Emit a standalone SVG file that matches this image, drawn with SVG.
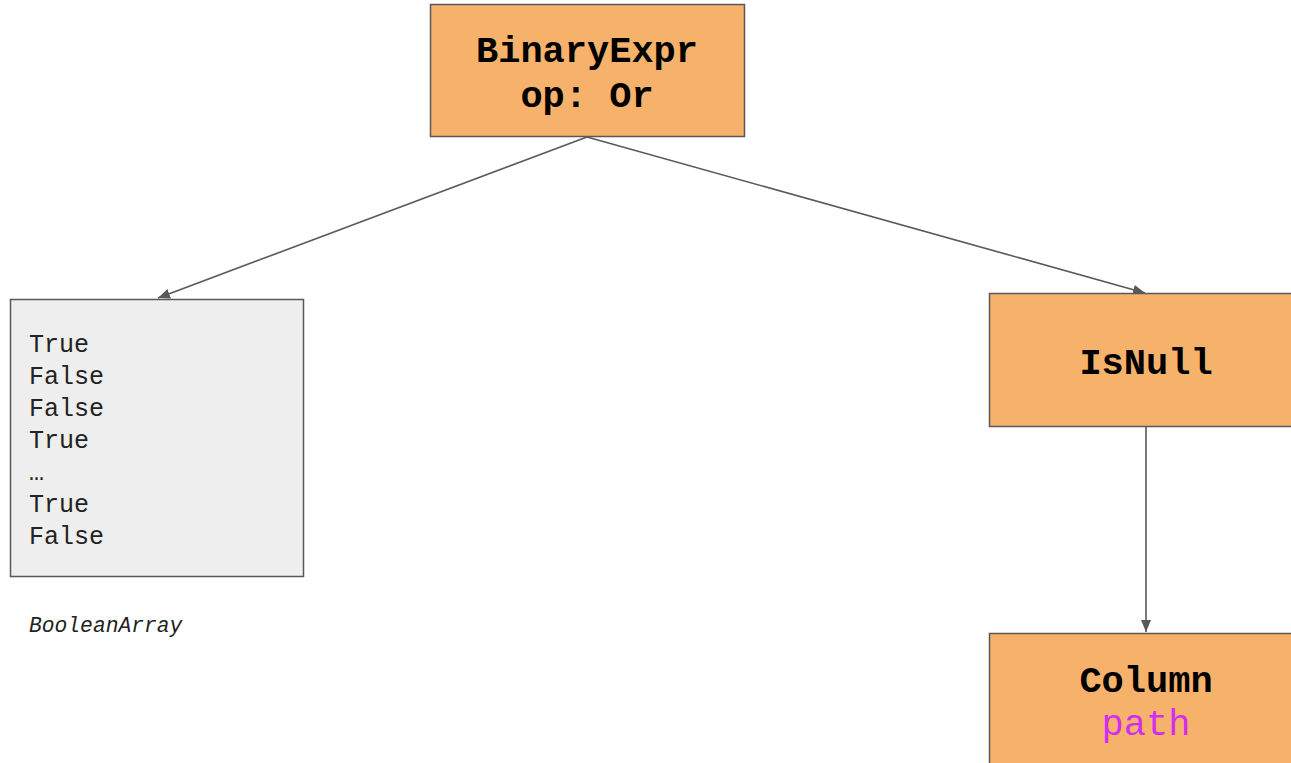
<svg xmlns="http://www.w3.org/2000/svg" width="1291" height="763" viewBox="0 0 1291 763">
<style>
.node{fill:#f6b26b;stroke:#595959;stroke-width:1.5}
.arr{fill:#eeeeee;stroke:#595959;stroke-width:1.5}
.t{font-family:"Liberation Mono","Courier New",monospace;font-weight:bold;font-size:37px;fill:#000;text-anchor:middle}
.v{font-family:"Liberation Mono","Courier New",monospace;font-size:25px;fill:#222}
.c{stroke:#595959;stroke-width:1.6;fill:none;marker-end:url(#ah)}
</style>
<defs>
<marker id="ah" viewBox="0 0 12 10" refX="12" refY="5" markerWidth="12" markerHeight="10" markerUnits="userSpaceOnUse" orient="auto">
<path d="M0,0 L12,5 L0,10 z" fill="#595959"/>
</marker>
</defs>
<rect width="1291" height="763" fill="#fff"/>
<g id="connectors">
<line class="c" x1="587" y1="137" x2="158" y2="298"/>
<line class="c" x1="587" y1="137" x2="1145" y2="293"/>
<line class="c" x1="1146" y1="427" x2="1146" y2="632"/>
</g>
<g id="binaryexpr">
<rect class="node" x="430.5" y="4.5" width="314" height="132"/>
<text class="t" x="587" y="62">BinaryExpr</text>
<text class="t" x="587" y="107">op: Or</text>
</g>
<g id="booleanarray">
<rect class="arr" x="10.5" y="299.5" width="293" height="277"/>
<text class="v" x="29" y="352">True</text>
<text class="v" x="29" y="384">False</text>
<text class="v" x="29" y="416">False</text>
<text class="v" x="29" y="448">True</text>
<text class="v" x="29" y="480">…</text>
<text class="v" x="29" y="512">True</text>
<text class="v" x="29" y="544">False</text>
<text class="v" x="29" y="632" style="font-style:italic;font-size:21.3px">BooleanArray</text>
</g>
<g id="isnull">
<rect class="node" x="989.5" y="293.5" width="310" height="133"/>
<text class="t" x="1146" y="374">IsNull</text>
</g>
<g id="column">
<rect class="node" x="989.5" y="633.5" width="310" height="140"/>
<text class="t" x="1146" y="692">Column</text>
<text class="t" x="1146" y="735" style="font-weight:normal;fill:#d22ef0">path</text>
</g>
</svg>
